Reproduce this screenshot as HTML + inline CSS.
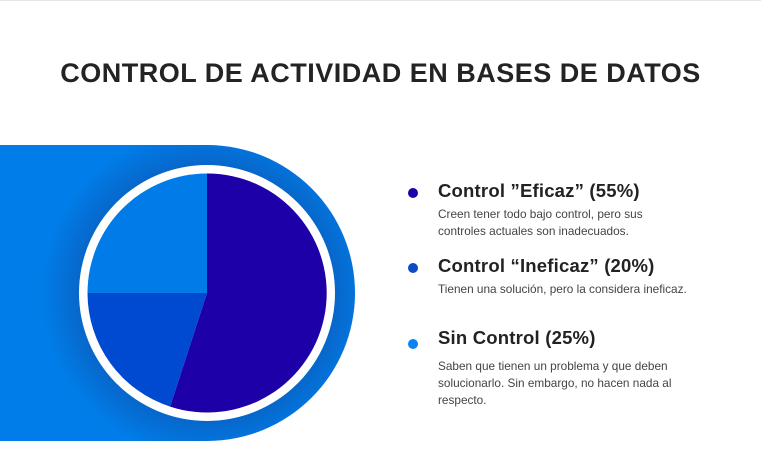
<!DOCTYPE html>
<html><head><meta charset="utf-8"><style>
body{margin:0;width:761px;height:475px;background:#fff;position:relative;overflow:hidden;font-family:"Liberation Sans",sans-serif;}
.top{position:absolute;left:0;top:0;width:761px;height:1px;background:#e6e6e6}
h1{position:absolute;top:58px;left:0;width:761px;text-align:center;margin:0;font-size:27px;font-weight:bold;color:#232323;letter-spacing:0.5px}
.glow{position:absolute;left:0;top:145px;width:355px;height:296px;border-radius:0 148px 148px 0;background:radial-gradient(circle at 207px 148px,rgba(10,95,192,0.8) 125px,rgba(0,125,232,0) 165px),#007de8;}
svg{position:absolute;left:0;top:0}
.item{position:absolute;left:438px;color:#222}
.item b{font-size:18.5px;display:block;letter-spacing:0.2px}
.item p{margin:4px 0 0;font-size:11.8px;line-height:17px;color:#444}
.dot{position:absolute;left:408px;width:10px;height:10px;border-radius:50%}
</style></head><body>
<div class="top"></div>
<h1>CONTROL DE ACTIVIDAD EN BASES DE DATOS</h1>
<div class="glow"></div>
<svg width="761" height="475">
<circle cx="207" cy="293" r="128" fill="#fff"/>
<path d="M207 293 L207 173.5 A119.5 119.5 0 1 1 170.1 406.6 Z" fill="#1d00a8"/>
<path d="M207 293 L170.1 406.6 A119.5 119.5 0 0 1 87.5 293 Z" fill="#004ad1"/>
<path d="M207 293 L87.5 293 A119.5 119.5 0 0 1 207 173.5 Z" fill="#007be8"/>
</svg>
<div class="dot" style="top:188px;background:#1d00a8"></div>
<div class="item" style="top:180px"><b>Control ”Eficaz” (55%)</b><p>Creen tener todo bajo control, pero sus<br>controles actuales son inadecuados.</p></div>
<div class="dot" style="top:263px;background:#0a4cc4"></div>
<div class="item" style="top:255px"><b>Control “Ineficaz” (20%)</b><p>Tienen una solución, pero la considera ineficaz.</p></div>
<div class="dot" style="top:339px;background:#0a84f0"></div>
<div class="item" style="top:327px"><b>Sin Control (25%)</b><p style="margin-top:9px">Saben que tienen un problema y que deben<br>solucionarlo. Sin embargo, no hacen nada al<br>respecto.</p></div>
</body></html>
